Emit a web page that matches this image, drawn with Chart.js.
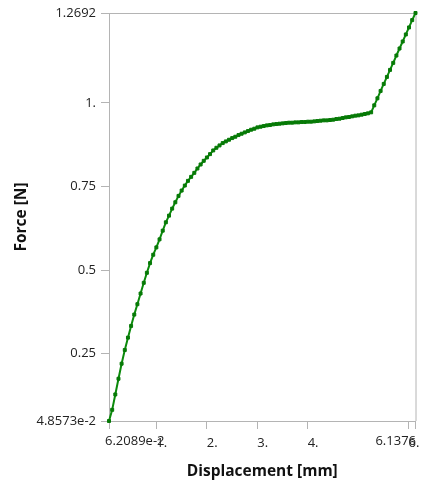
<!DOCTYPE html>
<html>
<head>
<meta charset="utf-8">
<script src="https://cdn.jsdelivr.net/npm/chart.js@4.4.1/dist/chart.umd.min.js"></script>
<style>
  html, body { margin: 0; padding: 0; background: #fff; }
  #wrap { width: 431px; height: 492px; }
</style>
</head>
<body>
<div id="wrap"><canvas id="forceChart" width="431" height="492"></canvas></div>
<script>
// Displacement [mm] values
const displacement = [
  0.062089, 0.125, 0.187, 0.250, 0.312, 0.375, 0.438, 0.500, 0.563, 0.625,
  0.688, 0.751, 0.813, 0.876, 0.939, 1.001, 1.064, 1.127, 1.189, 1.252,
  1.314, 1.377, 1.440, 1.502, 1.565, 1.627, 1.690, 1.753, 1.815, 1.878,
  1.940, 2.003, 2.065, 2.128, 2.191, 2.253, 2.316, 2.378, 2.441, 2.504,
  2.566, 2.629, 2.691, 2.754, 2.817, 2.879, 2.942, 3.004, 3.067, 3.129,
  3.192, 3.254, 3.317, 3.380, 3.442, 3.505, 3.567, 3.630, 3.693, 3.755,
  3.818, 3.880, 3.943, 4.006, 4.068, 4.131, 4.193, 4.256, 4.319, 4.381,
  4.444, 4.506, 4.569, 4.632, 4.694, 4.757, 4.819, 4.882, 4.945, 5.007,
  5.070, 5.132, 5.195, 5.258, 5.320, 5.383, 5.446, 5.508, 5.571, 5.633,
  5.696, 5.759, 5.821, 5.884, 5.946, 6.009, 6.072, 6.1376
];

// Force [N] values
const force = [
  0.048573, 0.082, 0.128, 0.175, 0.220, 0.261, 0.298, 0.333, 0.367, 0.398,
  0.430, 0.462, 0.492, 0.521, 0.546, 0.568, 0.592, 0.618, 0.643, 0.663,
  0.684, 0.703, 0.722, 0.738, 0.753, 0.767, 0.779, 0.791, 0.804, 0.816,
  0.827, 0.837, 0.847, 0.858, 0.866, 0.873, 0.880, 0.885, 0.890, 0.895,
  0.899, 0.904, 0.908, 0.912, 0.916, 0.920, 0.923, 0.927, 0.929, 0.931,
  0.933, 0.934, 0.936, 0.937, 0.938, 0.939, 0.940, 0.941, 0.941, 0.942,
  0.942, 0.943, 0.943, 0.944, 0.944, 0.945, 0.946, 0.947, 0.948, 0.948,
  0.949, 0.950, 0.952, 0.953, 0.955, 0.957, 0.958, 0.960, 0.962, 0.963,
  0.965, 0.967, 0.969, 0.972, 0.993, 1.014, 1.036, 1.057, 1.078, 1.099,
  1.120, 1.142, 1.163, 1.184, 1.205, 1.226, 1.248, 1.2692
];

// Tick values and their labels
const xTicks = [0.062089, 1, 2, 3, 4, 6, 6.1376];
const xTickLabels = ['6.2089e-2', '1.', '2.', '3.', '4.', '6.', '6.1376'];
const yTicks = [0.048573, 0.25, 0.5, 0.75, 1, 1.2692];
const yTickLabels = ['4.8573e-2', '0.25', '0.5', '0.75', '1.', '1.2692'];

const AXIS_COLOR = '#b4b4b4';
const LINE_COLOR = '#0b8a0b';
const MARK_COLOR = '#077a07';
const FONT = 'Open Sans, Noto Sans, sans-serif';

// Frame on top and right, plus the end labels of the x axis
const framePlugin = {
  id: 'frame',
  beforeDatasetsDraw(chart) {
    const { ctx, chartArea } = chart;
    ctx.save();
    ctx.strokeStyle = AXIS_COLOR;
    ctx.lineWidth = 1;
    ctx.beginPath();
    ctx.moveTo(chartArea.left, chartArea.top + 0.5);
    ctx.lineTo(chartArea.right + 0.5, chartArea.top + 0.5);
    ctx.lineTo(chartArea.right + 0.5, chartArea.bottom);
    ctx.stroke();
    ctx.restore();
  },
  afterDraw(chart) {
    const { ctx } = chart;
    const xs = chart.scales.x;
    const y = xs.top + 8 + 6;
    ctx.save();
    ctx.fillStyle = '#222';
    ctx.font = '13px ' + FONT;
    ctx.textBaseline = 'top';
    ctx.textAlign = 'left';
    ctx.fillText(xTickLabels[0], xs.getPixelForValue(xTicks[0]) - 4, y);
    // the last label ends where the "6" of the "6." tick label ends
    const endX = xs.getPixelForValue(xTicks[xTicks.length - 2]) + ctx.measureText('6').width;
    ctx.textAlign = 'right';
    ctx.fillText(xTickLabels[xTickLabels.length - 1], endX, y);
    ctx.restore();
  }
};

function initForceChart() {
  const ctx = document.getElementById('forceChart');

  const config = {
    type: 'line',
    data: {
      datasets: [{
        data: displacement.map((d, i) => ({ x: d, y: force[i] })),
        borderColor: LINE_COLOR,
        backgroundColor: LINE_COLOR,
        borderWidth: 2,
        pointStyle: 'rect',
        pointRadius: 2.1,
        pointBorderWidth: 1,
        pointBorderColor: MARK_COLOR,
        pointBackgroundColor: MARK_COLOR,
        tension: 0,
        clip: false
      }]
    },
    options: {
      responsive: false,
      animation: false,
      events: [],
      layout: { padding: { left: 0, top: 13, right: 15.5, bottom: 0 } },
      plugins: {
        legend: { display: false },
        tooltip: { enabled: false }
      },
      scales: {
        x: {
          type: 'linear',
          min: xTicks[0],
          max: xTicks[xTicks.length - 1],
          afterBuildTicks: scale => { scale.ticks = xTicks.map(v => ({ value: v })); },
          afterFit: scale => { scale.height = 71; },
          border: { display: true, color: AXIS_COLOR },
          grid: { drawOnChartArea: false, drawTicks: true, tickLength: 8, color: AXIS_COLOR },
          ticks: {
            autoSkip: false,
            maxRotation: 0,
            align: 'start',
            padding: 6,
            color: '#222',
            font: { family: FONT, size: 13 },
            callback: (v, i) => (i === 0 || i === xTicks.length - 1) ? '' : xTickLabels[i]
          },
          title: {
            display: true,
            text: 'Displacement [mm]',
            color: '#111',
            font: { family: FONT, size: 15.5, weight: 'bold' },
            padding: { top: 0, bottom: 11.5 }
          }
        },
        y: {
          type: 'linear',
          min: yTicks[0],
          max: yTicks[yTicks.length - 1],
          afterBuildTicks: scale => { scale.ticks = yTicks.map(v => ({ value: v })); },
          afterFit: scale => { scale.width = 109; },
          border: { display: true, color: AXIS_COLOR },
          grid: { drawOnChartArea: false, drawTicks: true, tickLength: 8, color: AXIS_COLOR },
          ticks: {
            autoSkip: false,
            padding: 5,
            color: '#222',
            font: { family: FONT, size: 13 },
            callback: (v, i) => yTickLabels[i]
          },
          title: {
            display: true,
            text: 'Force [N]',
            color: '#111',
            font: { family: FONT, size: 15.5, weight: 'bold' },
            padding: { top: 12.7, bottom: 0 }
          }
        }
      }
    },
    plugins: [framePlugin]
  };

  ctx.chart = new Chart(ctx, config);
}

initForceChart();
</script>
</body>
</html>
